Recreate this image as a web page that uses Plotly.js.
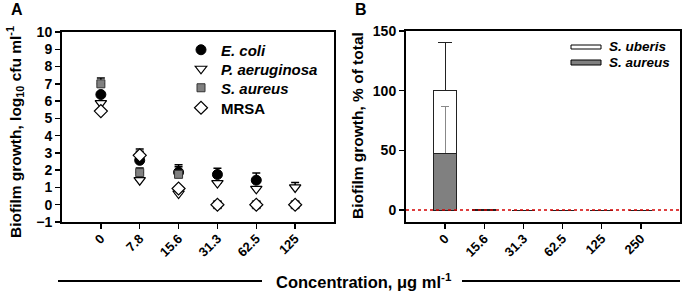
<!DOCTYPE html>
<html>
<head>
<meta charset="utf-8">
<script src="https://cdn.plot.ly/plotly-3.0.1.min.js"></script>
<style>html,body{margin:0;padding:0;background:#fff;}#chart{width:686px;height:293px;}</style>
</head>
<body>
<div id="chart"></div>
<script>
// ---- Panel A data ----
var catsA = ['0', '7.8', '15.6', '31.3', '62.5', '125'];
var ecoliX = ['0', '7.8', '15.6', '31.3', '62.5'];
var ecoliY = [6.38, 2.57, 1.88, 1.75, 1.42];
var ecoliErr = [0, 0.52, 0.43, 0.36, 0.42];
var paerX = ['0', '7.8', '15.6', '31.3', '62.5', '125'];
var paerY = [5.88, 1.42, 0.65, 1.25, 0.92, 1.0];
var paerErr = [0, 0, 0, 0, 0, 0.28];
var saurX = ['0', '7.8', '15.6', '31.3', '62.5', '125'];
var saurY = [7.0, 1.86, 1.76, 0, 0, 0];
var saurErr = [0.33, 0.27, 0.44, 0, 0, 0];
var mrsaX = ['0', '7.8', '15.6', '31.3', '62.5', '125'];
var mrsaY = [5.42, 2.86, 0.94, 0, 0, 0];
var mrsaErr = [0, 0.36, 0, 0, 0, 0];
var ticksA = [-1, 0, 1, 2, 3, 4, 5, 6, 7, 8, 9, 10];

// ---- Panel B data ----
var catsB = ['0', '15.6', '31.3', '62.5', '125', '250'];
var bAureus = [47, 0.6, 0, 0, 0, 0];
var bAureusErr = [40, 0, 0, 0, 0, 0];
var bUberis = [53, 0.2, 0, 0, 0, 0];
var bUberisErr = [40, 0, 0, 0, 0, 0];
var ticksB = [0, 50, 100, 150];

var FONT = 'Liberation Sans, Arial, sans-serif';
function err(arr, color, w) {
  return {type: 'data', symmetric: false, array: arr, arrayminus: arr.map(function(){return 0;}),
          color: color || '#000', thickness: 1.5, width: w || 4};
}
var traces = [
  {x: ecoliX, y: ecoliY, type: 'scatter', mode: 'markers', name: '<b><i>E. coli</i></b>',
   marker: {symbol: 'circle', size: 10, color: '#000', line: {color: '#000', width: 1}},
   error_y: err(ecoliErr), xaxis: 'x', yaxis: 'y', legend: 'legend'},
  {x: paerX, y: paerY, type: 'scatter', mode: 'markers', name: '<b><i>P. aeruginosa</i></b>',
   marker: {symbol: 'triangle-down', size: 10, color: '#fff', line: {color: '#000', width: 1.2}},
   error_y: err(paerErr), xaxis: 'x', yaxis: 'y', legend: 'legend2'},
  {x: saurX, y: saurY, type: 'scatter', mode: 'markers', name: '<b><i>S. aureus</i></b>',
   marker: {symbol: 'square', size: 8, color: '#808080', line: {color: '#333', width: 1}},
   error_y: err(saurErr), xaxis: 'x', yaxis: 'y', legend: 'legend3'},
  {x: mrsaX, y: mrsaY, type: 'scatter', mode: 'markers', name: '<b>MRSA</b>',
   marker: {symbol: 'diamond', size: 10, color: '#fff', line: {color: '#000', width: 1.2}},
   error_y: err(mrsaErr), xaxis: 'x', yaxis: 'y', legend: 'legend4'},
  {x: catsB, y: bAureus, type: 'bar', name: 'S. aureus', showlegend: false,
   marker: {color: '#808080', line: {color: '#222', width: 1}},
   error_y: {type: 'data', symmetric: false, array: bAureusErr, arrayminus: [0,0,0,0,0,0], color: '#888', thickness: 1, width: 4},
   xaxis: 'x2', yaxis: 'y2'},
  {x: catsB, y: bUberis, type: 'bar', name: 'S. uberis', showlegend: false,
   marker: {color: 'rgba(255,255,255,0)', line: {color: '#222', width: 1}},
   error_y: {type: 'data', symmetric: false, array: bUberisErr, arrayminus: [0,0,0,0,0,0], color: '#222', thickness: 1, width: 7},
   xaxis: 'x2', yaxis: 'y2'}
];

function py(p) { return 1 - p / 293; }
function px(p) { return p / 686; }
var legFont = {family: FONT, size: 15, color: '#000'};
function leg(yPix) {
  return {x: px(181), y: py(yPix), xanchor: 'left', yanchor: 'middle', bgcolor: 'rgba(0,0,0,0)',
          borderwidth: 0, font: legFont, itemclick: false};
}
var tickFont = {family: FONT, size: 14, color: '#000', weight: 'bold'};
var xTickFont = {family: FONT, size: 13, color: '#000', weight: 'bold'};
var axBase = {showline: true, linewidth: 2, linecolor: '#000', mirror: true, ticks: 'outside',
              ticklen: 5, tickwidth: 1.5, tickcolor: '#000', showgrid: false, zeroline: false,
              tickfont: tickFont, fixedrange: true};

var layout = {
  width: 686, height: 293,
  margin: {l: 0, r: 0, t: 0, b: 0},
  paper_bgcolor: '#fff', plot_bgcolor: '#fff',
  barmode: 'stack', bargap: 0.41,
  showlegend: true,
  legend: leg(50), legend2: leg(69), legend3: leg(88), legend4: leg(108),
  xaxis: Object.assign({}, axBase, {domain: [px(62), px(334)], type: 'category', categoryarray: catsA,
         categoryorder: 'array', range: [-1, 6], tickangle: -45, anchor: 'y', tickfont: xTickFont, ticklabelstandoff: -3}),
  yaxis: Object.assign({}, axBase, {domain: [py(222), py(32)], range: [-1, 10], tickvals: ticksA, anchor: 'x'}),
  xaxis2: Object.assign({}, axBase, {domain: [px(406), px(680)], type: 'category', categoryarray: catsB,
          categoryorder: 'array', range: [-1, 6], tickangle: -45, anchor: 'y2', tickfont: xTickFont, ticklabelstandoff: -3}),
  yaxis2: Object.assign({}, axBase, {domain: [py(222), py(31)], range: [-10, 150], tickvals: ticksB, anchor: 'x2'}),
  shapes: [
    {type: 'line', xref: 'x2 domain', yref: 'y2', x0: 0, x1: 1, y0: 0, y1: 0,
     line: {color: '#d40000', width: 1.5, dash: 'dot'}, layer: 'above'},
    {type: 'line', xref: 'paper', yref: 'paper', x0: px(58), x1: px(262), y0: py(281), y1: py(281), line: {color: '#000', width: 2}},
    {type: 'line', xref: 'paper', yref: 'paper', x0: px(462), x1: px(680), y0: py(281), y1: py(281), line: {color: '#000', width: 2}},
    {type: 'rect', xref: 'paper', yref: 'paper', x0: px(571), x1: px(601), y0: py(49), y1: py(45), line: {color: '#000', width: 1}, fillcolor: '#fff'},
    {type: 'rect', xref: 'paper', yref: 'paper', x0: px(571), x1: px(601), y0: py(65), y1: py(60), line: {color: '#000', width: 1}, fillcolor: '#808080'}
  ],
  annotations: [
    {text: '<b>A</b>', xref: 'paper', yref: 'paper', x: px(9), y: py(10), xanchor: 'left', yanchor: 'middle', showarrow: false, font: {family: FONT, size: 16, color: '#000'}},
    {text: '<b>B</b>', xref: 'paper', yref: 'paper', x: px(353), y: py(10), xanchor: 'left', yanchor: 'middle', showarrow: false, font: {family: FONT, size: 16, color: '#000'}},
    {text: '<b>Biofilm growth, log<sub>10</sub> cfu ml<sup>-1</sup></b>', xref: 'paper', yref: 'paper', x: px(15), y: py(132), textangle: -90, xanchor: 'center', yanchor: 'middle', showarrow: false, font: {family: FONT, size: 15.5, color: '#000'}},
    {text: '<b>Biofilm growth, % of total</b>', xref: 'paper', yref: 'paper', x: px(358), y: py(126), textangle: -90, xanchor: 'center', yanchor: 'middle', showarrow: false, font: {family: FONT, size: 15.5, color: '#000'}},
    {text: '<b>Concentration, μg ml<sup>-1</sup></b>', xref: 'paper', yref: 'paper', x: px(364), y: py(281), xanchor: 'center', yanchor: 'middle', showarrow: false, font: {family: FONT, size: 16.5, color: '#000'}},
    {text: '<b><i>S. uberis</i></b>', xref: 'paper', yref: 'paper', x: px(607), y: py(47), xanchor: 'left', yanchor: 'middle', showarrow: false, font: {family: FONT, size: 13.5, color: '#000'}},
    {text: '<b><i>S. aureus</i></b>', xref: 'paper', yref: 'paper', x: px(607), y: py(63), xanchor: 'left', yanchor: 'middle', showarrow: false, font: {family: FONT, size: 13.5, color: '#000'}}
  ]
};
Plotly.newPlot('chart', traces, layout, {displayModeBar: false, staticPlot: true});
</script>
</body>
</html>
